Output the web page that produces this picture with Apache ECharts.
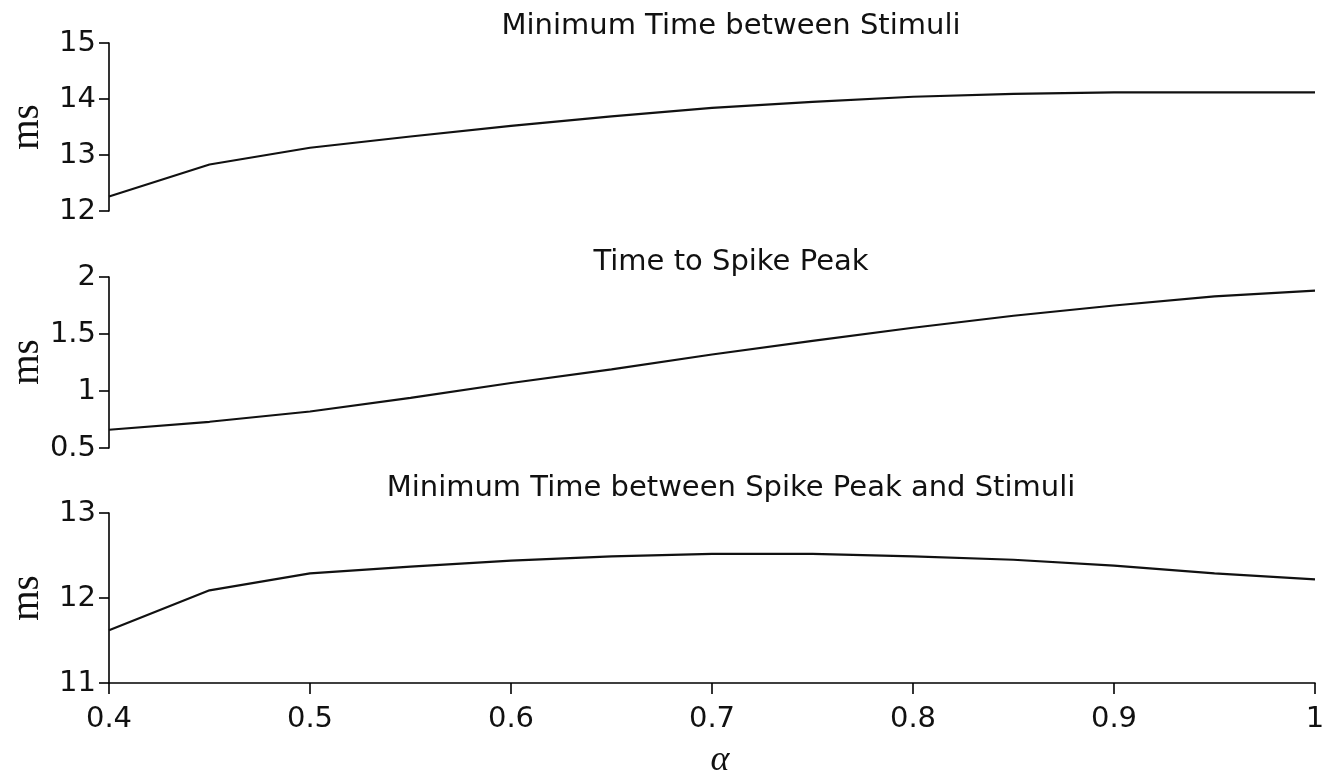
<!DOCTYPE html>
<html>
<head>
<meta charset="utf-8">
<script src="https://cdn.jsdelivr.net/npm/echarts@6/dist/echarts.min.js"></script>
<style>
  html, body { margin: 0; padding: 0; background: #fff; }
  #chart { width: 1322px; height: 776px; }
</style>
</head>
<body>
<div id="chart"></div>
<script>
// Shared alpha values (x axis)
const alphas = [0.4, 0.45, 0.5, 0.55, 0.6, 0.65, 0.7, 0.75, 0.8, 0.85, 0.9, 0.95, 1.0];

// Panel titles
const titles = [
  'Minimum Time between Stimuli',
  'Time to Spike Peak',
  'Minimum Time between Spike Peak and Stimuli'
];

// Series values (ms)
const minTimeStimuli = [12.26, 12.83, 13.13, 13.33, 13.52, 13.69, 13.84, 13.95, 14.04, 14.09, 14.12, 14.12, 14.12];
const timeToPeak     = [0.66, 0.73, 0.82, 0.94, 1.07, 1.19, 1.32, 1.44, 1.555, 1.66, 1.75, 1.83, 1.88];
const minTimePeakStim = [11.62, 12.09, 12.29, 12.37, 12.44, 12.49, 12.52, 12.52, 12.49, 12.45, 12.38, 12.29, 12.22];

// Y axis ranges per panel
const yRanges = [
  { min: 12, max: 15, interval: 1 },
  { min: 0.5, max: 2, interval: 0.5 },
  { min: 11, max: 13, interval: 1 }
];
const xTicks = { min: 0.4, max: 1, interval: 0.1 };

const seriesData = [minTimeStimuli, timeToPeak, minTimePeakStim];

const labelFont = '"DejaVu Sans", Helvetica, Arial, sans-serif';
const serifFont = '"Liberation Serif", "DejaVu Serif", "Times New Roman", serif';

const grids = [
  { left: 109, right: 7, top: 43, height: 168 },
  { left: 109, right: 7, top: 277, height: 171 },
  { left: 109, right: 7, top: 513, height: 170 }
];

const titleCenters = [26, 262, 488];
const msCenters = [127, 362, 598];

const chart = echarts.init(document.getElementById('chart'), null, { renderer: 'canvas' });

const axisLineStyle = { color: '#000', width: 1.6 };

const option = {
  animation: false,
  backgroundColor: '#fff',
  // keep every panel at the same fixed width, even if the last tick label overhangs
  grid: grids.map(g => Object.assign({ containLabel: false, outerBoundsMode: 'none' }, g)),
  xAxis: grids.map((g, i) => ({
    type: 'value',
    gridIndex: i,
    min: xTicks.min,
    max: xTicks.max,
    interval: xTicks.interval,
    show: i === 2,
    axisLine: { show: true, onZero: false, lineStyle: axisLineStyle },
    axisTick: { show: true, length: 11, lineStyle: axisLineStyle },
    splitLine: { show: false },
    axisLabel: {
      show: true,
      margin: 22,
      color: '#111',
      fontFamily: labelFont,
      fontSize: 29,
      formatter: v => (Math.abs(v - 1) < 1e-9 ? '1' : v.toFixed(1))
    }
  })),
  yAxis: yRanges.map((r, i) => ({
    type: 'value',
    gridIndex: i,
    min: r.min,
    max: r.max,
    interval: r.interval,
    axisLine: { show: true, lineStyle: axisLineStyle },
    axisTick: { show: true, length: 10, lineStyle: axisLineStyle },
    splitLine: { show: false },
    axisLabel: {
      margin: 13,
      color: '#111',
      fontFamily: labelFont,
      fontSize: 29,
      formatter: v => String(Math.round(v * 10) / 10)
    }
  })),
  series: seriesData.map((d, i) => ({
    type: 'line',
    xAxisIndex: i,
    yAxisIndex: i,
    data: alphas.map((a, k) => [a, d[k]]),
    showSymbol: false,
    smooth: false,
    lineStyle: { color: '#111', width: 2.2 },
    silent: true
  })),
  graphic: [
    ...titles.map((t, i) => ({
      type: 'text',
      x: 731,
      y: titleCenters[i],
      style: {
        text: t,
        fill: '#111',
        font: '29px ' + labelFont,
        textAlign: 'center',
        textVerticalAlign: 'middle'
      }
    })),
    ...msCenters.map(c => ({
      type: 'text',
      x: 28,
      y: c,
      rotation: Math.PI / 2,
      style: {
        text: 'ms',
        fill: '#111',
        font: '39px ' + serifFont,
        textAlign: 'center',
        textVerticalAlign: 'middle'
      }
    })),
    {
      type: 'text',
      x: 720,
      y: 761,
      style: {
        text: 'α',
        fill: '#111',
        font: 'italic 36px ' + serifFont,
        textAlign: 'center',
        textVerticalAlign: 'middle'
      }
    }
  ]
};

chart.setOption(option);
</script>
</body>
</html>
